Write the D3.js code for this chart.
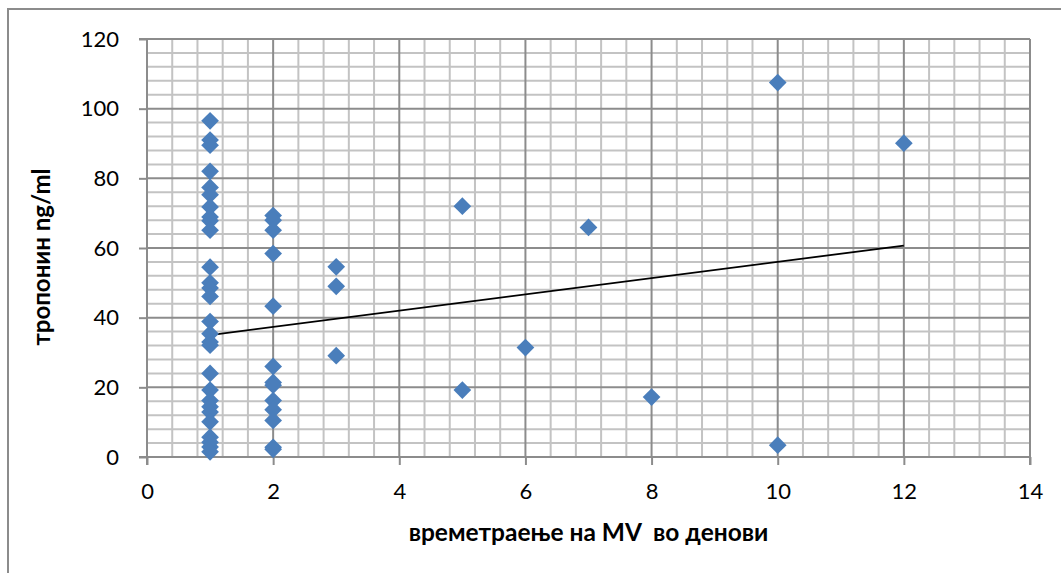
<!DOCTYPE html>
<html>
<head>
<meta charset="utf-8">
<script src="https://cdn.jsdelivr.net/npm/d3@7"></script>
<style>
  html, body { margin: 0; padding: 0; background: #fff; }
  svg { display: block; }
</style>
</head>
<body>
<svg id="chart" width="1061" height="573"></svg>
<script>
// Duration of mechanical ventilation (days) and troponin (ng/ml), one entry per patient
const durationDays = [
  1, 1, 1, 1, 1, 1, 1, 1, 1, 1, 1, 1, 1, 1, 1, 1, 1, 1, 1, 1, 1, 1, 1, 1, 1, 1, 1, 1,
  2, 2, 2, 2, 2, 2, 2, 2, 2, 2, 2, 2, 2,
  3, 3, 3,
  5, 5,
  6,
  7,
  8,
  10, 10,
  12
];
const troponin = [
  96.5, 91, 89.5, 82, 77.4, 75.3, 71.8, 68.9, 67.8, 65.1, 54.5, 50, 48.5, 46.1, 38.9, 35.4, 33, 32.1, 24, 19.2, 16.2, 14.4, 12.9, 10.1, 5.7, 4.2, 2.9, 1.5,
  69.3, 68, 65.1, 58.4, 43.3, 26, 21.4, 20.6, 16.2, 13.6, 10.5, 2.8, 2.2,
  54.6, 49, 29.1,
  72, 19.2,
  31.4,
  65.9,
  17.2,
  107.5, 3.4,
  90.1
];
// linear trend line fitted to the full patient set: troponin = slope * days + intercept
const trendSlope = 2.336;
const trendIntercept = 32.66;

const xTicks = [0, 2, 4, 6, 8, 10, 12, 14];
const yTicks = [0, 20, 40, 60, 80, 100, 120];
const xTitle = "времетраење на MV  во денови";
const yTitle = "тропонин ng/ml";

const svg = d3.select("#chart");
const W = 1061, H = 573;
const plot = { left: 147, top: 39, right: 1030, bottom: 457 };

const x = d3.scaleLinear().domain([0, 14]).range([plot.left, plot.right]);
const y = d3.scaleLinear().domain([0, 120]).range([plot.bottom, plot.top]);

// outer chart frame
svg.append("rect")
  .attr("x", 8).attr("y", 9)
  .attr("width", W + 20).attr("height", H + 20)
  .attr("fill", "#fff").attr("stroke", "#8c8c8c").attr("stroke-width", 2);

const grid = svg.append("g");
// minor gridlines: 5 subdivisions per major step
const xMinor = d3.range(0, 14.0001, 0.4).filter(v => Math.abs(v / 2 - Math.round(v / 2)) > 1e-6);
const yMinor = d3.range(0, 120.0001, 4).filter(v => v % 20 !== 0);
grid.selectAll("line.xm").data(xMinor).join("line")
  .attr("x1", d => x(d)).attr("x2", d => x(d))
  .attr("y1", plot.top).attr("y2", plot.bottom)
  .attr("stroke", "#c3c3c3").attr("stroke-width", 2);
grid.selectAll("line.ym").data(yMinor).join("line")
  .attr("x1", plot.left).attr("x2", plot.right)
  .attr("y1", d => y(d)).attr("y2", d => y(d))
  .attr("stroke", "#c3c3c3").attr("stroke-width", 2);
// major gridlines
grid.selectAll("line.xM").data(xTicks.slice(1)).join("line")
  .attr("x1", d => x(d)).attr("x2", d => x(d))
  .attr("y1", plot.top).attr("y2", plot.bottom)
  .attr("stroke", "#8c8c8c").attr("stroke-width", 2);
grid.selectAll("line.yM").data(yTicks.slice(1)).join("line")
  .attr("x1", plot.left).attr("x2", plot.right)
  .attr("y1", d => y(d)).attr("y2", d => y(d))
  .attr("stroke", "#8c8c8c").attr("stroke-width", 2);

// axes
const fontFam = "Lato, 'Open Sans', sans-serif";
const xAxis = svg.append("g")
  .attr("transform", `translate(0,${plot.bottom})`)
  .call(d3.axisBottom(x).tickValues(xTicks).tickSize(8).tickPadding(18).tickFormat(d3.format("d")));
const yAxis = svg.append("g")
  .attr("transform", `translate(${plot.left},0)`)
  .call(d3.axisLeft(y).tickValues(yTicks).tickSize(8).tickPadding(20).tickFormat(d3.format("d")));
[xAxis, yAxis].forEach(a => {
  a.select(".domain").attr("stroke", "#8c8c8c").attr("stroke-width", 2);
  a.selectAll(".tick line").attr("stroke", "#8c8c8c").attr("stroke-width", 2);
  a.selectAll(".tick text").attr("fill", "#000")
    .style("font-family", fontFam).style("font-size", "22px");
});
xAxis.select(".domain").attr("d", `M${plot.left},8V0H${plot.right}V8`);
yAxis.select(".domain").attr("d", `M-8,${plot.bottom}H0V${plot.top}H-8`);

// trend line across the observed range of days
const xExt = d3.extent(durationDays);
svg.append("line")
  .attr("x1", x(xExt[0])).attr("y1", y(trendIntercept + trendSlope * xExt[0]))
  .attr("x2", x(xExt[1])).attr("y2", y(trendIntercept + trendSlope * xExt[1]))
  .attr("stroke", "#000").attr("stroke-width", 1.8);

// data markers (diamonds)
const diamond = d3.symbol().type(d3.symbolDiamond2).size(200);
svg.append("g").selectAll("path").data(durationDays.map((d, i) => [d, troponin[i]])).join("path")
  .attr("d", diamond)
  .attr("transform", d => `translate(${x(d[0])},${y(d[1])})`)
  .attr("fill", "#4a7ebb");

// axis titles
svg.append("text")
  .attr("x", (plot.left + plot.right) / 2).attr("y", 541)
  .attr("text-anchor", "middle")
  .style("white-space", "pre")
  .style("font-family", fontFam).style("font-weight", "bold").style("font-size", "24.5px")
  .text(xTitle);
svg.append("text")
  .attr("transform", `translate(50,${(plot.top + plot.bottom) / 2 + 9}) rotate(-90)`)
  .attr("text-anchor", "middle")
  .style("font-family", fontFam).style("font-weight", "bold").style("font-size", "24px")
  .text(yTitle);
</script>
</body>
</html>
